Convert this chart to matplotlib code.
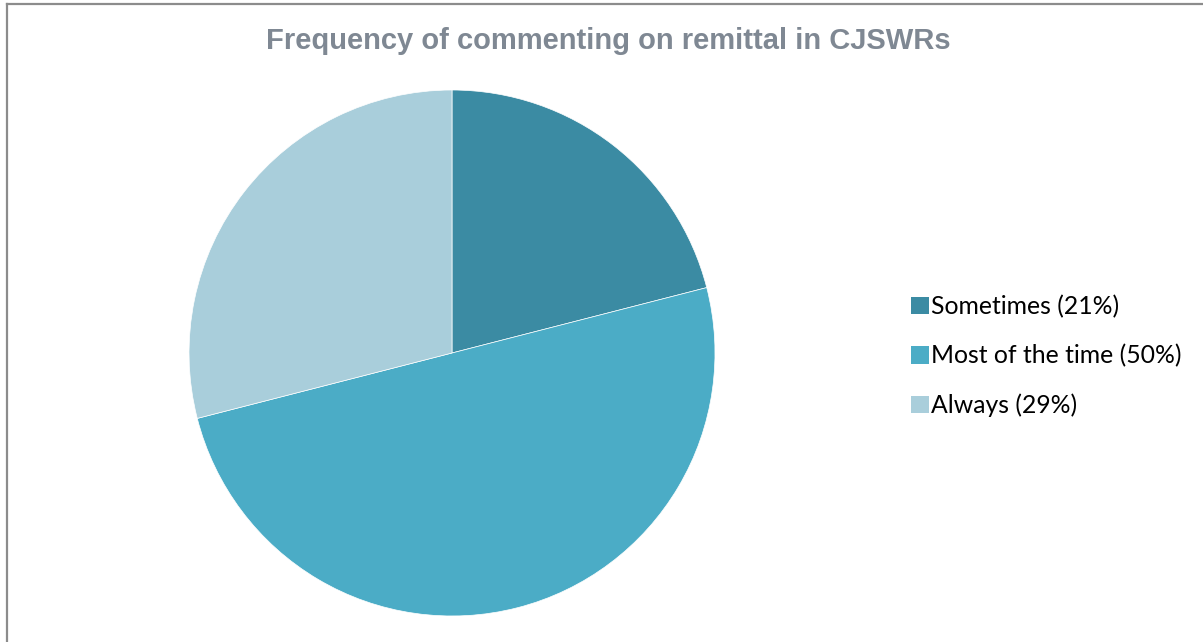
import matplotlib
matplotlib.use('Agg')
import matplotlib.pyplot as plt
from matplotlib.patches import Patch
from matplotlib.lines import Line2D

# data
labels = ['Sometimes', 'Most of the time', 'Always']
shares = [21, 50, 29]
colors = ['#3B8BA3', '#4BACC6', '#A9CEDB']
title = 'Frequency of commenting on remittal in CJSWRs'

W, H = 1203, 642
fig = plt.figure(figsize=(W / 100, H / 100), dpi=100)

# outer frame (only top and left edges visible in the crop)
fig.add_artist(Line2D([6.5 / W, 6.5 / W], [0, 1 - 3.5 / H], transform=fig.transFigure,
                      color='#8C8C8C', lw=1.6))
fig.add_artist(Line2D([6.5 / W, 1], [1 - 3.5 / H, 1 - 3.5 / H], transform=fig.transFigure,
                      color='#8C8C8C', lw=1.6))

# pie: centre (452, 353) px, radius 263 px
cx, cy, r = 452, 353, 263
ax = fig.add_axes([(cx - r) / W, (H - cy - r) / H, 2 * r / W, 2 * r / H])
ax.pie(shares, colors=colors, startangle=90, counterclock=False,
       wedgeprops=dict(linewidth=0.5, edgecolor='white'))
ax.set_xlim(-1, 1)
ax.set_ylim(-1, 1)
ax.set_aspect('equal')
ax.axis('off')

fig.text(608 / W, 1 - 41 / H, title, ha='center', va='center',
         fontsize=21, fontweight='bold', color='#7F8893', family='Liberation Sans')

handles = [Patch(facecolor=c, edgecolor='none') for c in colors]
leg_labels = [f'{l} ({s}%)' for l, s in zip(labels, shares)]
fig.legend(handles, leg_labels, loc='center left',
           bbox_to_anchor=(911 / W, 1 - 356 / H), frameon=False,
           prop=dict(family='Lato', size=17.8), borderpad=0,
           handlelength=0.72, handleheight=0.72, handletextpad=0.1,
           labelspacing=1.05, borderaxespad=0)

fig.savefig('out.png', dpi=100)
